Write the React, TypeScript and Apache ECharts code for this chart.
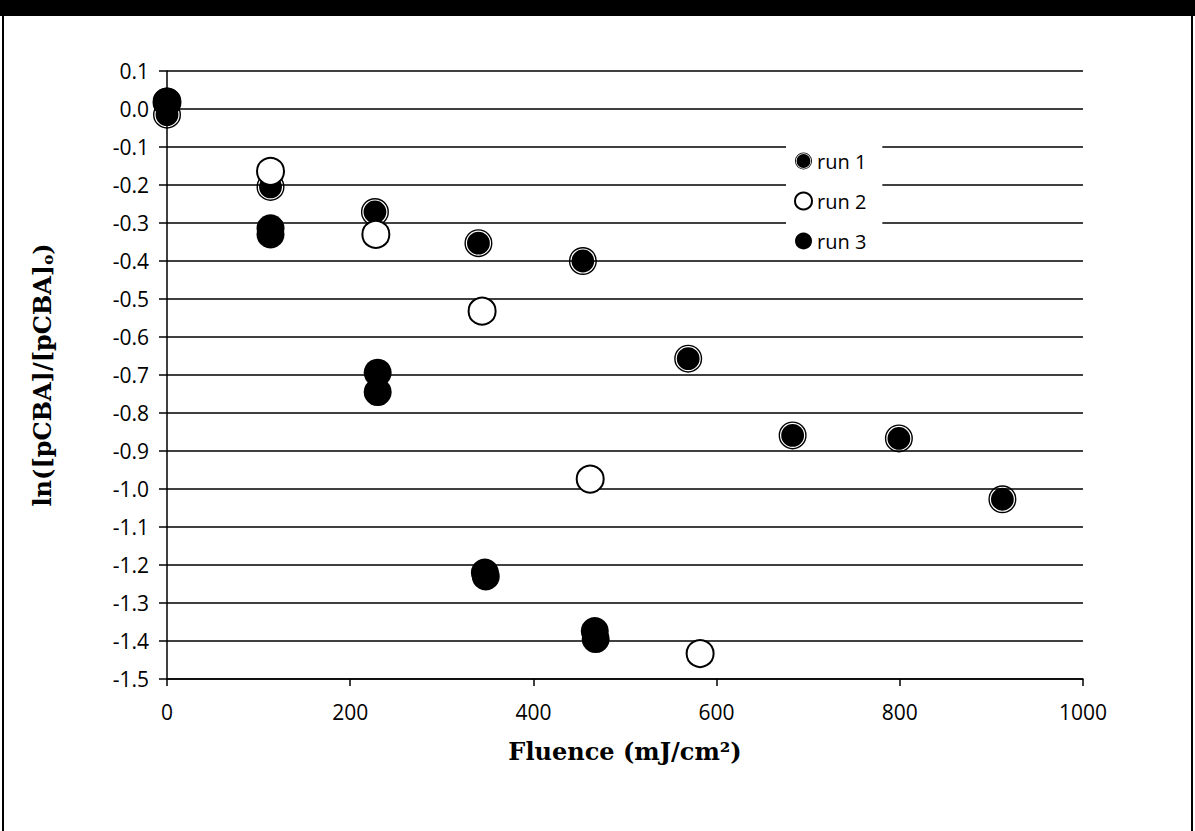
import React, { useEffect, useRef } from "react";
import * as echarts from "echarts";

// Fluence (mJ/cm²) and ln([pCBA]/[pCBA]o) values for each run
const run1X = [0, 113, 227, 340, 454, 569, 683, 799, 912];
const run1Y = [-0.015, -0.205, -0.271, -0.353, -0.4, -0.657, -0.859, -0.867, -1.027];
const run2X = [0, 113, 228, 344, 462, 582];
const run2Y = [0.018, -0.164, -0.33, -0.532, -0.974, -1.433];
const run3X = [0, 113, 113, 230, 230, 347, 348, 467, 468];
const run3Y = [0.02, -0.314, -0.33, -0.694, -0.745, -1.22, -1.23, -1.374, -1.395];

const seriesNames = ["run 1", "run 2", "run 3"];
const xTicks = [0, 200, 400, 600, 800, 1000];
const yMin = -1.5;
const yMax = 0.1;

const ringPath =
  "path://M0,-14A14,14 0 1,1 0,14A14,14 0 1,1 0,-14Z" +
  "M0,-12.6A12.6,12.6 0 1,0 0,12.6A12.6,12.6 0 1,0 0,-12.6Z" +
  "M0,-11.4A11.4,11.4 0 1,1 0,11.4A11.4,11.4 0 1,1 0,-11.4Z";

const zip = (xs: number[], ys: number[]) => xs.map((x, i) => [x, ys[i]]);

export default function App() {
  const ref = useRef<HTMLDivElement>(null);
  useEffect(() => {
    if (!ref.current) return;
    const chart = echarts.init(ref.current, null, { renderer: "svg" });
    const sans = "'Open Sans', Lato, sans-serif";
    const serif = "'DejaVu Serif', 'Liberation Serif', serif";
    chart.setOption({
      animation: false,
      backgroundColor: "#fff",
      graphic: [
        { type: "rect", shape: { x: 0, y: 0, width: 1195, height: 16 }, style: { fill: "#000" } },
        { type: "rect", shape: { x: 2, y: 0, width: 2, height: 831 }, style: { fill: "#000" } },
        { type: "rect", shape: { x: 1191, y: 0, width: 2, height: 831 }, style: { fill: "#000" } },
      ],
      grid: { left: 167, right: 112, top: 71, bottom: 152, containLabel: false },
      legend: {
        orient: "vertical",
        left: 786,
        top: 145,
        data: seriesNames,
        itemWidth: 17,
        itemHeight: 17,
        itemGap: 20,
        backgroundColor: "#fff",
        padding: [6, 16, 6, 8],
        textStyle: { fontFamily: sans, fontSize: 20, color: "#000" },
      },
      xAxis: {
        type: "value",
        min: xTicks[0],
        max: xTicks[xTicks.length - 1],
        interval: 200,
        name: "Fluence (mJ/cm²)",
        nameLocation: "middle",
        nameGap: 60,
        nameTextStyle: { fontFamily: serif, fontWeight: "bold", fontSize: 24, color: "#000" },
        axisLine: { onZero: false, lineStyle: { color: "#000", width: 1.5 } },
        axisTick: { show: true, inside: false, length: 7, lineStyle: { color: "#000", width: 1.5 } },
        axisLabel: {
          margin: 22,
          fontFamily: sans,
          fontSize: 21,
          color: "#000",
          formatter: (v: number) => String(v),
        },
        splitLine: { show: false },
      },
      yAxis: {
        type: "value",
        min: yMin,
        max: yMax,
        interval: 0.1,
        name: "ln([pCBA]/[pCBA]{sub|o})",
        nameLocation: "middle",
        nameGap: 112,
        nameTextStyle: {
          fontFamily: serif,
          fontWeight: "bold",
          fontSize: 24,
          color: "#000",
          rich: {
            sub: { fontFamily: serif, fontWeight: "bold", fontSize: 15, color: "#000", verticalAlign: "bottom", padding: [10, 0, 0, 0] },
          },
        },
        axisLine: { onZero: false, lineStyle: { color: "#000", width: 1.5 } },
        axisTick: { show: true, inside: false, length: 8, lineStyle: { color: "#000", width: 1.5 } },
        axisLabel: {
          margin: 18,
          fontFamily: sans,
          fontSize: 21,
          color: "#000",
          formatter: (v: number) => (Math.abs(v) < 1e-9 ? "0.0" : v.toFixed(1)),
        },
        splitLine: { show: true, lineStyle: { color: "#000", width: 1.5 } },
      },
      series: [
        {
          name: seriesNames[0],
          type: "scatter",
          symbol: ringPath,
          symbolSize: 28,
          itemStyle: { color: "#000", opacity: 1 },
          data: zip(run1X, run1Y),
        },
        {
          name: seriesNames[1],
          type: "scatter",
          symbol: "circle",
          symbolSize: 27,
          itemStyle: { color: "#fff", borderColor: "#000", borderWidth: 2, opacity: 1 },
          data: zip(run2X, run2Y),
        },
        {
          name: seriesNames[2],
          type: "scatter",
          symbol: "circle",
          symbolSize: 28,
          itemStyle: { color: "#000", opacity: 1 },
          data: zip(run3X, run3Y),
        },
      ],
    });
    return () => chart.dispose();
  }, []);
  return (
    <div
      ref={ref}
      style={{ position: "absolute", left: 0, top: 0, width: 1195, height: 831 }}
    />
  );
}
